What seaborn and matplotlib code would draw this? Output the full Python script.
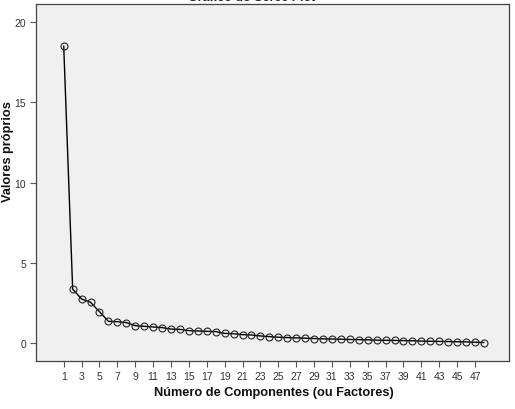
import matplotlib
matplotlib.use("Agg")
import matplotlib.pyplot as plt
import seaborn as sns
import pandas as pd

components = list(range(1, 49))
eigenvalues = [18.5, 3.36, 2.74, 2.54, 1.95, 1.35, 1.33, 1.27, 1.08, 1.04,
               1.00, 0.96, 0.87, 0.85, 0.77, 0.75, 0.73, 0.71, 0.60, 0.58,
               0.52, 0.50, 0.44, 0.40, 0.36, 0.34, 0.32, 0.30, 0.28, 0.26,
               0.25, 0.24, 0.22, 0.21, 0.20, 0.18, 0.17, 0.16, 0.15, 0.14,
               0.12, 0.11, 0.10, 0.09, 0.08, 0.07, 0.05, 0.03]
xticks = list(range(1, 48, 2))
yticks = [0, 5, 10, 15, 20]

title = "Gráfico do Scree Plot"
xlabel = "Número de Componentes (ou Factores)"
ylabel = "Valores próprios"

df = pd.DataFrame({"comp": components, "eig": eigenvalues})

sns.set_theme(style="white")
plt.rcParams['font.family'] = ['Liberation Sans', 'DejaVu Sans']

fig = plt.figure(figsize=(5.15, 4.10), dpi=100)
ax = fig.add_axes([36/515, 1-362/410, (509-36)/515, (362-5)/410])
ax.set_facecolor("#f0f0f0")

sns.lineplot(data=df, x="comp", y="eig", ax=ax, color="black", linewidth=1.0,
             marker="o", markersize=5, markerfacecolor="none",
             markeredgecolor="#222222", markeredgewidth=0.8)

ax.set_xlim(-2.1, 50.8)
ax.set_ylim(-1.12, 21.12)
ax.set_xticks(xticks)
ax.set_xticklabels([str(t) for t in xticks])
ax.set_yticks(yticks)
ax.tick_params(axis="both", direction="out", length=4, width=0.8,
               color="#555555", labelsize=7.5, labelcolor="#333333",
               bottom=True, left=True, pad=3)
for s in ax.spines.values():
    s.set_color("#444444")
    s.set_linewidth(0.9)

ax.set_xlabel("")
ax.set_ylabel("")
fig.text(274/515, 1 - 393/410, xlabel, ha="center", va="center",
         fontsize=9.2, fontweight="bold", color="#111111")
fig.text(8/515, 1 - 152/410, ylabel, ha="center", va="center", rotation=90,
         fontsize=9.2, fontweight="bold", color="#111111")
fig.text(252/515, 1 - 4/410, title, ha="center", va="bottom",
         fontsize=9, fontweight="bold", color="#222222")

fig.savefig("out.png", dpi=100)
